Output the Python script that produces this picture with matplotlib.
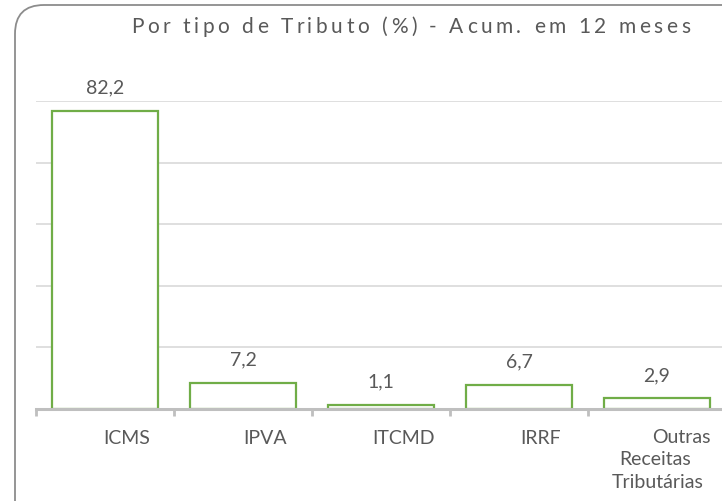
import matplotlib
matplotlib.use("Agg")
import matplotlib.pyplot as plt
from matplotlib.patches import FancyBboxPatch
from matplotlib.font_manager import FontProperties
import matplotlib.transforms as mtransforms

categories = ["ICMS", "IPVA", "ITCMD", "IRRF", "Outras\nReceitas\nTributárias"]
values = [82.2, 7.2, 1.1, 6.7, 2.9]
value_labels = ["82,2", "7,2", "1,1", "6,7", "2,9"]
title = "Por tipo de Tributo (%) - Acum. em 12 meses"

W, H = 722, 502
fig = plt.figure(figsize=(W / 100, H / 100), dpi=100)
fig.patch.set_facecolor("white")

# rounded border
border = FancyBboxPatch((15 / W, -40 / H), (W + 60) / W, (H + 40 - 6) / H,
                        boxstyle="round,pad=0,rounding_size=0.04",
                        transform=fig.transFigure, facecolor="none",
                        edgecolor="#8c8c8c", linewidth=1.3, mutation_aspect=W / H)
fig.patches.append(border)

ax = fig.add_axes([36 / W, 92 / H, 690 / W, 308 / H])
x = list(range(len(categories)))
ax.bar(x, values, width=0.77, facecolor="white", edgecolor="#70ad47", linewidth=1.6, zorder=3)
ax.set_xlim(-0.5, len(categories) - 0.5)
ax.set_ylim(0, 85)
ax.set_yticks([17, 34, 51, 68, 85])
ax.yaxis.grid(True, color="#d9d9d9", linewidth=1.2)
ax.tick_params(axis="y", length=0, labelleft=False)
for s in ["top", "right", "left"]:
    ax.spines[s].set_visible(False)
ax.spines["bottom"].set_color("#bfbfbf")
ax.spines["bottom"].set_linewidth(2.2)
ax.spines["bottom"].set_zorder(4)
ax.set_xticks([i - 0.5 for i in range(len(categories) + 1)])
ax.tick_params(axis="x", length=5, width=2, color="#bfbfbf", labelbottom=False)
ax.set_axisbelow(True)

txtcol = "#595959"
fs = 14
for i, (v, lab) in enumerate(zip(values, value_labels)):
    ax.annotate(lab, (i, v), xytext=(0, 11), textcoords="offset points",
                ha="center", va="bottom", fontsize=fs, color=txtcol, family="Lato")

line_dx = [24, -2, 1]
for i, c in enumerate(categories):
    lines = c.split("\n")
    if len(lines) == 1:
        off = mtransforms.offset_copy(ax.transData, fig=fig, x=22, y=-34, units="dots")
        ax.text(i, 0, c, transform=off, ha="center", va="baseline", fontsize=fs,
                color=txtcol, family="Lato")
    else:
        for k, ln in enumerate(lines):
            off = mtransforms.offset_copy(ax.transData, fig=fig, x=line_dx[k],
                                          y=-33 - 22.5 * k, units="dots")
            ax.text(i, 0, ln, transform=off, ha="center", va="baseline", fontsize=fs,
                    color=txtcol, family="Lato")

# letter-spaced title
prop = FontProperties(family="Lato", size=15)
renderer = fig.canvas.get_renderer()
widths = []
for ch in title:
    w, h, d = renderer.get_text_width_height_descent(ch, prop, ismath=False)
    widths.append(w)
x0, x1 = 131, 690
gap = (x1 - x0 - sum(widths)) / (len(title) - 1)
cx = x0
for ch, w in zip(title, widths):
    fig.text(cx / W, 1 - 33 / H, ch, ha="left", va="baseline", fontproperties=prop, color=txtcol)
    cx += w + gap

fig.savefig("out.png", dpi=100)
